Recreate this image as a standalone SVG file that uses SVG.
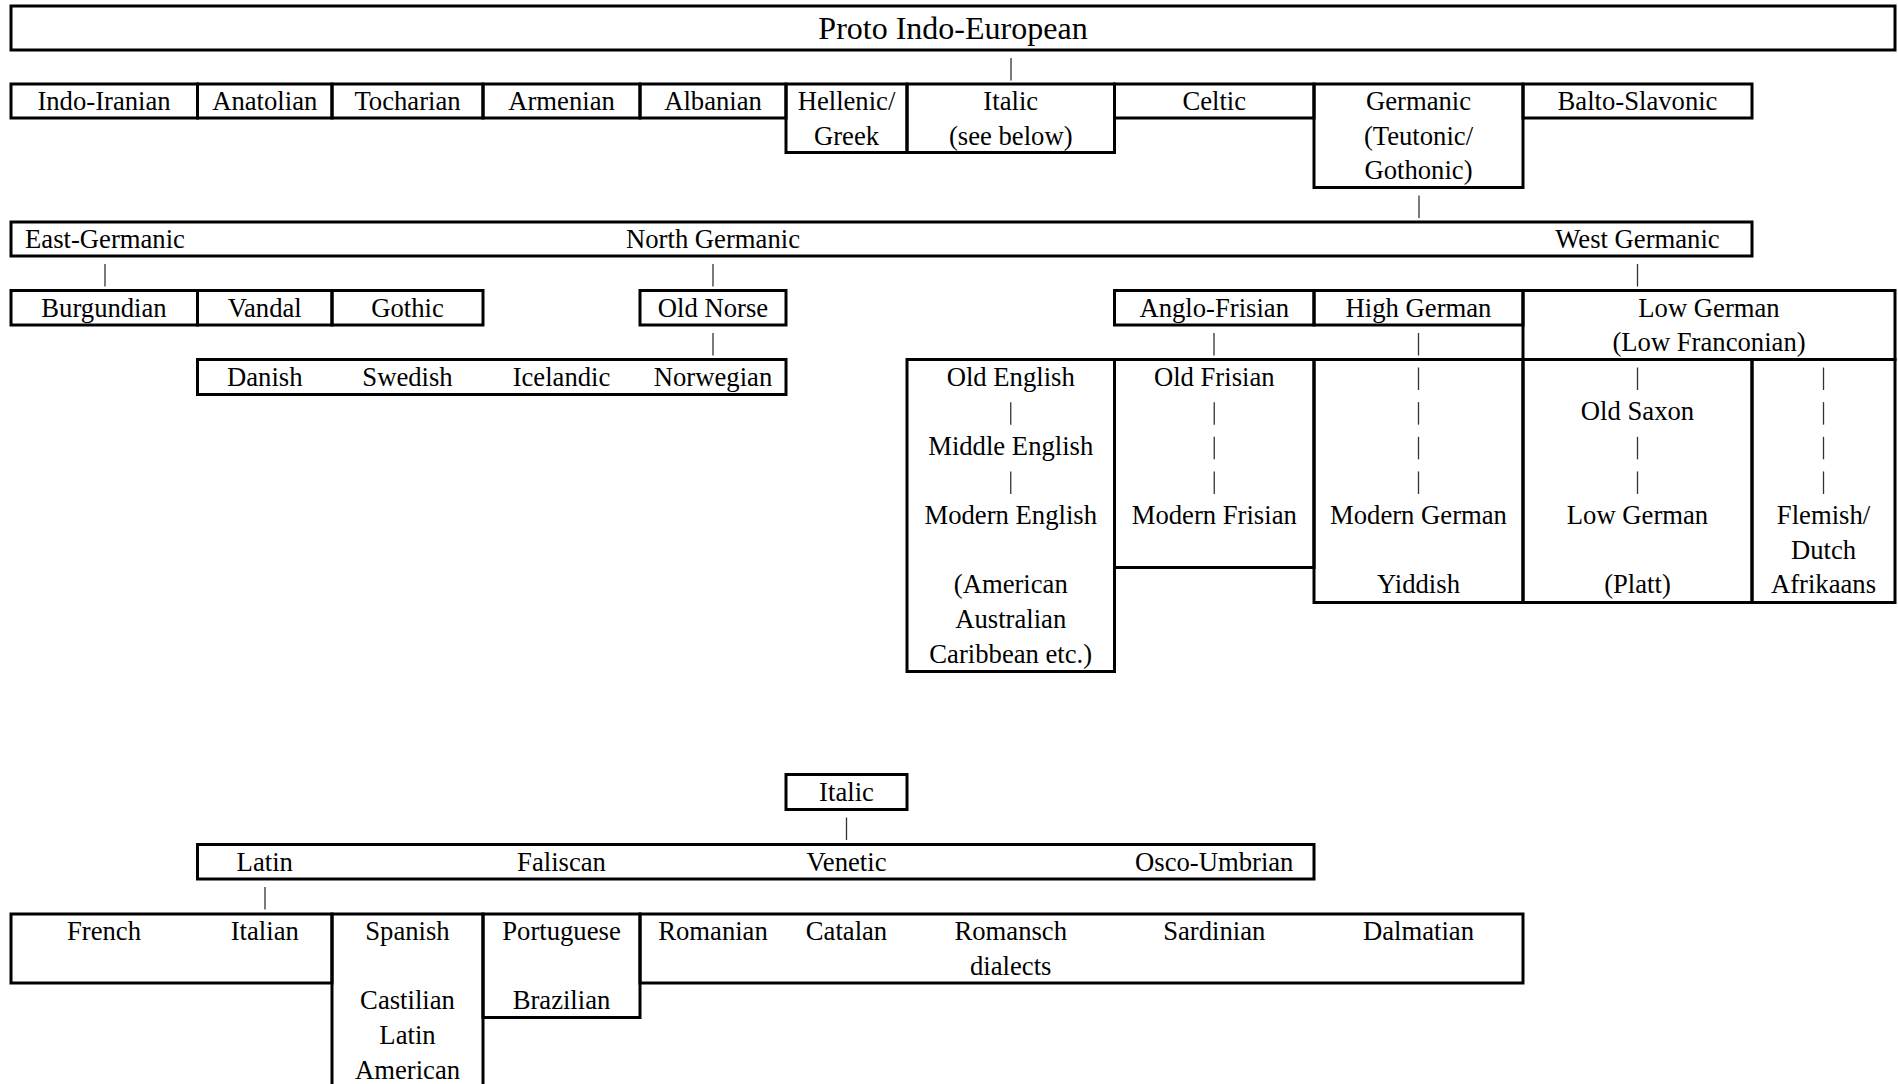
<svg xmlns="http://www.w3.org/2000/svg" width="1898" height="1084" viewBox="0 0 1898 1084">
<style>
.b{fill:none;stroke:#000;stroke-width:3}
.t{font-family:"Liberation Serif","Times New Roman",serif;font-size:26.67px;text-anchor:middle;fill:#000}
.big{font-size:32px}
.c{stroke:#333;stroke-width:1.3;fill:none}
</style>
<defs><path id="bar" class="c" d="M0,-18V4.5"/></defs>
<rect width="1898" height="1084" fill="#fff"/>
<g id="connectors">
<use href="#bar" x="1011" y="76"/>
<use href="#bar" x="1419" y="213.5"/>
<use href="#bar" x="105" y="282"/>
<use href="#bar" x="713" y="282"/>
<use href="#bar" x="1637.5" y="282"/>
<use href="#bar" x="713" y="351"/>
<use href="#bar" x="1214" y="351"/>
<use href="#bar" x="1418.5" y="351"/>
<use href="#bar" x="846.5" y="835.5"/>
<use href="#bar" x="265" y="905"/>
<use href="#bar" x="1010.75" y="420.15"/>
<use href="#bar" x="1010.75" y="489.45"/>
<use href="#bar" x="1214.25" y="420.15"/>
<use href="#bar" x="1214.25" y="454.8"/>
<use href="#bar" x="1214.25" y="489.45"/>
<use href="#bar" x="1418.5" y="385.5"/>
<use href="#bar" x="1418.5" y="420.15"/>
<use href="#bar" x="1418.5" y="454.8"/>
<use href="#bar" x="1418.5" y="489.45"/>
<use href="#bar" x="1637.5" y="385.5"/>
<use href="#bar" x="1637.5" y="454.8"/>
<use href="#bar" x="1637.5" y="489.45"/>
<use href="#bar" x="1823.5" y="385.5"/>
<use href="#bar" x="1823.5" y="420.15"/>
<use href="#bar" x="1823.5" y="454.8"/>
<use href="#bar" x="1823.5" y="489.45"/>
</g>
<g id="proto"><rect class="b" x="11" y="6" width="1884" height="44"/><text class="t big" x="953" y="39.3">Proto Indo-European</text></g>
<g id="indo-iranian"><rect class="b" x="11" y="84" width="186.5" height="34"/><text class="t" x="104" y="110">Indo-Iranian</text></g>
<g id="anatolian"><rect class="b" x="197.5" y="84" width="134.5" height="34"/><text class="t" x="264.75" y="110">Anatolian</text></g>
<g id="tocharian"><rect class="b" x="332" y="84" width="151" height="34"/><text class="t" x="407.5" y="110">Tocharian</text></g>
<g id="armenian"><rect class="b" x="483" y="84" width="157" height="34"/><text class="t" x="561.5" y="110">Armenian</text></g>
<g id="albanian"><rect class="b" x="640" y="84" width="146" height="34"/><text class="t" x="713" y="110">Albanian</text></g>
<g id="hellenic"><rect class="b" x="786" y="84" width="121" height="68.5"/><text class="t" x="846.5" y="110">Hellenic/</text><text class="t" x="846.5" y="144.5">Greek</text></g>
<g id="italic"><rect class="b" x="907" y="84" width="207.5" height="68.5"/><text class="t" x="1010.75" y="110">Italic</text><text class="t" x="1010.75" y="144.5">(see below)</text></g>
<g id="celtic"><rect class="b" x="1114.5" y="84" width="199.5" height="34"/><text class="t" x="1214.25" y="110">Celtic</text></g>
<g id="germanic"><rect class="b" x="1314" y="84" width="209" height="103.5"/><text class="t" x="1418.5" y="110">Germanic</text><text class="t" x="1418.5" y="144.5">(Teutonic/</text><text class="t" x="1418.5" y="179">Gothonic)</text></g>
<g id="balto-slavonic"><rect class="b" x="1523" y="84" width="229" height="34"/><text class="t" x="1637.5" y="110">Balto-Slavonic</text></g>
<g id="germanic-branches"><rect class="b" x="11" y="222" width="1741" height="34"/><text class="t" x="105" y="248">East-Germanic</text><text class="t" x="713" y="248">North Germanic</text><text class="t" x="1637.5" y="248">West Germanic</text></g>
<g id="burgundian"><rect class="b" x="11" y="290.5" width="186.5" height="34.5"/><text class="t" x="104" y="316.5">Burgundian</text></g>
<g id="vandal"><rect class="b" x="197.5" y="290.5" width="134.5" height="34.5"/><text class="t" x="264.75" y="316.5">Vandal</text></g>
<g id="gothic"><rect class="b" x="332" y="290.5" width="151" height="34.5"/><text class="t" x="407.5" y="316.5">Gothic</text></g>
<g id="old-norse"><rect class="b" x="640" y="290.5" width="146" height="34.5"/><text class="t" x="713" y="316.5">Old Norse</text></g>
<g id="scandinavian"><rect class="b" x="197.5" y="359.5" width="588.5" height="35"/><text class="t" x="264.75" y="385.5">Danish</text><text class="t" x="407.5" y="385.5">Swedish</text><text class="t" x="561.5" y="385.5">Icelandic</text><text class="t" x="713" y="385.5">Norwegian</text></g>
<g id="anglo-frisian"><rect class="b" x="1114.5" y="290.5" width="199.5" height="34.5"/><text class="t" x="1214.25" y="316.5">Anglo-Frisian</text></g>
<g id="high-german"><rect class="b" x="1314" y="290.5" width="209" height="34.5"/><text class="t" x="1418.5" y="316.5">High German</text></g>
<g id="low-german"><rect class="b" x="1523" y="290.5" width="372" height="69"/><text class="t" x="1709" y="316.5">Low German</text><text class="t" x="1709" y="351">(Low Franconian)</text></g>
<g id="english"><rect class="b" x="907" y="359.5" width="207.5" height="312"/>
<text class="t" x="1010.75" y="385.5">Old English</text><text class="t" x="1010.75" y="454.8">Middle English</text><text class="t" x="1010.75" y="524.1">Modern English</text><text class="t" x="1010.75" y="593.4">(American</text><text class="t" x="1010.75" y="628.05">Australian</text><text class="t" x="1010.75" y="662.7">Caribbean etc.)</text></g>
<g id="frisian"><rect class="b" x="1114.5" y="359.5" width="199.5" height="208"/>
<text class="t" x="1214.25" y="385.5">Old Frisian</text><text class="t" x="1214.25" y="524.1">Modern Frisian</text></g>
<g id="modern-german"><rect class="b" x="1314" y="359.5" width="209" height="243"/>
<text class="t" x="1418.5" y="524.1">Modern German</text><text class="t" x="1418.5" y="593.4">Yiddish</text></g>
<g id="old-saxon"><rect class="b" x="1523" y="359.5" width="229" height="243"/>
<text class="t" x="1637.5" y="420.15">Old Saxon</text><text class="t" x="1637.5" y="524.1">Low German</text><text class="t" x="1637.5" y="593.4">(Platt)</text></g>
<g id="dutch"><rect class="b" x="1752" y="359.5" width="143" height="243"/>
<text class="t" x="1823.5" y="524.1">Flemish/</text><text class="t" x="1823.5" y="558.75">Dutch</text><text class="t" x="1823.5" y="593.4">Afrikaans</text></g>
<g id="italic-root"><rect class="b" x="786" y="774.5" width="121" height="35"/><text class="t" x="846.5" y="800.5">Italic</text></g>
<g id="italic-branches"><rect class="b" x="197.5" y="844.5" width="1116.5" height="34.5"/><text class="t" x="264.75" y="870.5">Latin</text><text class="t" x="561.5" y="870.5">Faliscan</text><text class="t" x="846.5" y="870.5">Venetic</text><text class="t" x="1214.25" y="870.5">Osco-Umbrian</text></g>
<g id="french-italian"><rect class="b" x="11" y="914" width="321" height="69"/><text class="t" x="104" y="940">French</text><text class="t" x="264.75" y="940">Italian</text></g>
<g id="spanish"><rect class="b" x="332" y="914" width="151" height="190"/><text class="t" x="407.5" y="940">Spanish</text><text class="t" x="407.5" y="1009.3">Castilian</text><text class="t" x="407.5" y="1043.95">Latin</text><text class="t" x="407.5" y="1078.6">American</text></g>
<g id="portuguese"><rect class="b" x="483" y="914" width="157" height="103.5"/><text class="t" x="561.5" y="940">Portuguese</text><text class="t" x="561.5" y="1009.3">Brazilian</text></g>
<g id="other-romance"><rect class="b" x="640" y="914" width="883" height="69"/><text class="t" x="713" y="940">Romanian</text><text class="t" x="846.5" y="940">Catalan</text><text class="t" x="1010.75" y="940">Romansch</text><text class="t" x="1010.75" y="974.65">dialects</text><text class="t" x="1214.25" y="940">Sardinian</text><text class="t" x="1418.5" y="940">Dalmatian</text></g>
</svg>
